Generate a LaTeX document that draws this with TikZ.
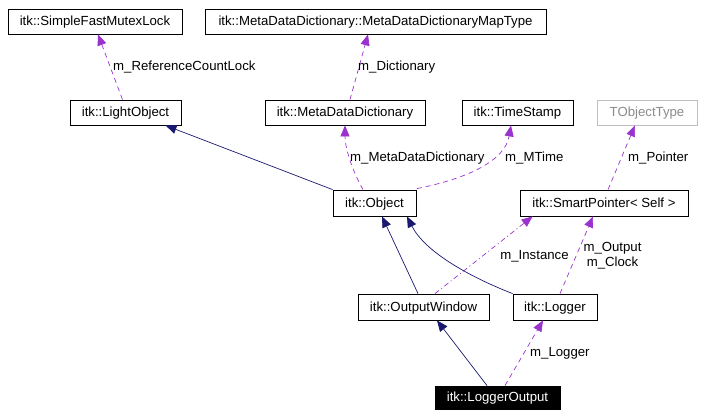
\documentclass[tikz,border=0pt]{standalone}
\usepackage{fontspec}
\setmainfont{Liberation Sans}
\usetikzlibrary{arrows.meta,calc}
\definecolor{inh}{HTML}{191970}
\definecolor{use}{HTML}{9A32CD}
\definecolor{grayb}{HTML}{BFBFBF}
\begin{document}
\begin{tikzpicture}[x=1pt,y=-1pt,
  every node/.style={font=\fontsize{13.2}{15}\selectfont},
  cls/.style={draw=black,line width=0.8pt,minimum height=25pt,inner sep=0pt,fill=white,text height=9.5pt,text depth=1.1pt},
  lbl/.style={inner sep=0pt,align=center},
  inhe/.style={draw=inh,line width=0.7pt,-{Triangle[length=11pt,width=9pt]},color=inh},
  usee/.style={draw=use,line width=0.7pt,dash pattern=on 5pt off 4pt,-{Triangle[length=11pt,width=9pt]},color=use}]
\useasboundingbox (0,0) rectangle (715,418);
% nodes
\node[cls,minimum width=174pt] (sfml) at (95,21.5) {itk::SimpleFastMutexLock};
\node[cls,minimum width=341pt] (mapt) at (375.5,21.5) {itk::MetaDataDictionary::MetaDataDictionaryMapType};
\node[cls,minimum width=111pt] (lobj) at (125.5,112.5) {itk::LightObject};
\node[cls,minimum width=160pt] (mdd) at (345,112.5) {itk::MetaDataDictionary};
\node[cls,minimum width=111pt] (ts) at (517.5,112.5) {itk::TimeStamp};
\node[cls,draw=grayb,minimum width=100pt,text=black!45] (tobj) at (647,112.5) {TObjectType};
\node[cls,minimum width=83pt,minimum height=26pt] (obj) at (374.5,203) {itk::Object};
\node[cls,minimum width=168pt,minimum height=26pt] (sp) at (604,203) {itk::SmartPointer< Self >};
\node[cls,minimum width=131pt,minimum height=26pt] (ow) at (423.5,307) {itk::OutputWindow};
\node[cls,minimum width=84pt,minimum height=26pt] (lg) at (555,307) {itk::Logger};
\node[cls,fill=black,text=white,minimum width=125pt,minimum height=23pt] (lo) at (497.5,397.5) {itk::LoggerOutput};
% usage edges
\draw[usee] ($(lobj.north)+(-3,0)$) -- ($(sfml.south)+(3,0)$);
\node[lbl,anchor=base west] (l1) at (113,70) {m\_ReferenceCountLock};
\draw[usee] ($(mdd.north)+(5,0)$) -- ($(mapt.south)+(-7.5,0)$);
\node[lbl,anchor=base west] (l2) at (358,70) {m\_Dictionary};
\draw[usee] ($(obj.north)+(-11.5,0)$) .. controls (352,170) and (345,148) .. (mdd.south);
\node[lbl,anchor=base west] (l3) at (350,161) {m\_MetaDataDictionary};
\draw[usee] ($(obj.north east)+(0.5,-1)$) .. controls (470,178) and (505,160) .. ($(ts.south)+(-6.5,0)$);
\node[lbl,anchor=base west] (l4) at (505,161) {m\_MTime};
\draw[usee] ($(sp.north)+(4,0)$) -- ($(tobj.south)+(-12,0)$);
\node[lbl,anchor=base west] (l5) at (628,161) {m\_Pointer};
\draw[usee,dash pattern=on 5pt off 3pt on 1pt off 3pt] ($(ow.north)+(11.5,0)$) -- ($(sp.south west)+(13,0)$);
\node[lbl,anchor=base] (l6) at (534.5,259) {m\_Instance};
\draw[usee] ($(lg.north)+(5,0)$) -- ($(sp.south)+(-11,0)$);
\node[lbl,anchor=base] (l7) at (612.5,266) {m\_Output\\[0pt]m\_Clock};
\draw[usee] ($(lo.north)+(7.5,0)$) -- ($(lg.south)+(-12,0)$);
\node[lbl,anchor=base west] (l8) at (530,356) {m\_Logger};
% inheritance edges
\draw[inhe] (obj.north west) -- ($(lobj.south)+(40,0)$);
\draw[inhe] ($(ow.north)+(-5.5,0)$) -- ($(obj.south)+(7.5,0)$);
\draw[inhe] (lg.north west) .. controls (470,277) and (425,252) .. ($(obj.south)+(32.5,0)$);
\draw[inhe] ($(lo.north)+(-10.5,0)$) -- ($(ow.south)+(13.5,0)$);
\end{tikzpicture}
\end{document}
